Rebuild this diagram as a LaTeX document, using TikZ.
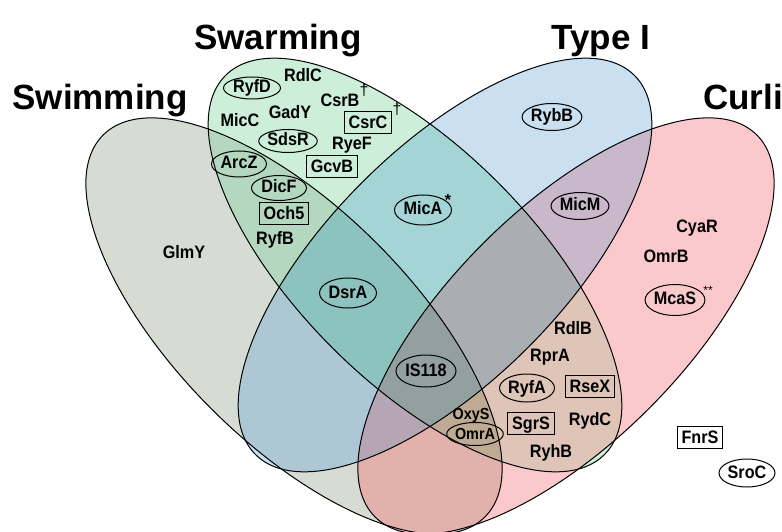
\documentclass[tikz,border=0pt]{standalone}
\usepackage{fontspec}
\setmainfont{Liberation Sans}
\newfontfamily\lblfont[FakeStretch=0.9]{Liberation Sans}
\usetikzlibrary{shapes.geometric}
\definecolor{cA}{HTML}{D6DCD4}
\definecolor{cB}{HTML}{CDEFD9}
\definecolor{cC}{HTML}{CADFF0}
\definecolor{cD}{HTML}{FBC9CB}
\definecolor{cAB}{HTML}{B3D8BF}
\definecolor{cAC}{HTML}{ADC8D4}
\definecolor{cAD}{HTML}{E2B1AC}
\definecolor{cBC}{HTML}{A4D5D6}
\definecolor{cBD}{HTML}{DEC5B8}
\definecolor{cCD}{HTML}{C9B7CA}
\definecolor{cABC}{HTML}{8CC3BE}
\definecolor{cABD}{HTML}{BFAA94}
\definecolor{cACD}{HTML}{B5A6B6}
\definecolor{cBCD}{HTML}{AAAEB3}
\definecolor{cABCD}{HTML}{92A19F}
\newcommand\EA{(294,205) ellipse (270 and 117)}
\newcommand\EB{(415,266) ellipse (268 and 117)}
\newcommand\EC{(445,266) ellipse (268 and 117)}
\newcommand\ED{(566,205) ellipse (270 and 117)}
\tikzset{
  rA/.style={rotate around={-45:(294,205)}},
  rB/.style={rotate around={-45:(415,266)}},
  rC/.style={rotate around={45:(445,266)}},
  rD/.style={rotate around={45:(566,205)}},
}
\begin{document}
\begin{tikzpicture}[x=1pt,y=1pt,
  lbl/.style={font=\lblfont\bfseries\fontsize{18}{18}\selectfont, inner sep=1pt},
  sml/.style={font=\lblfont\bfseries\fontsize{16}{16}\selectfont},
  oval/.style={lbl, draw, line width=1pt, ellipse, inner sep=0pt, text height=11pt, text depth=1pt, minimum width=57pt, minimum height=27pt},
  boxed/.style={lbl, draw, line width=1pt, rectangle, inner xsep=4.5pt, inner ysep=4pt, text height=13pt, text depth=1pt},
  ttl/.style={font=\bfseries\fontsize{35}{35}\selectfont, inner sep=0pt, anchor=base},
  supm/.style={font=\fontsize{16}{16}\selectfont, inner sep=0pt},
  setline/.style={draw=black, line width=1pt}
]
\useasboundingbox (0,0) rectangle (782,531);
\fill[white] (0,0) rectangle (782,531);
% single sets
\fill[cA, rA] \EA;
\fill[cB, rB] \EB;
\fill[cC, rC] \EC;
\fill[cD, rD] \ED;
% pairs
\begin{scope}\clip[rA] \EA; \fill[cAB, rB] \EB; \end{scope}
\begin{scope}\clip[rA] \EA; \fill[cAC, rC] \EC; \end{scope}
\begin{scope}\clip[rA] \EA; \fill[cAD, rD] \ED; \end{scope}
\begin{scope}\clip[rB] \EB; \fill[cBC, rC] \EC; \end{scope}
\begin{scope}\clip[rB] \EB; \fill[cBD, rD] \ED; \end{scope}
\begin{scope}\clip[rC] \EC; \fill[cCD, rD] \ED; \end{scope}
% triples
\begin{scope}\clip[rA] \EA; \clip[rB] \EB; \fill[cABC, rC] \EC; \end{scope}
\begin{scope}\clip[rA] \EA; \clip[rB] \EB; \fill[cABD, rD] \ED; \end{scope}
\begin{scope}\clip[rA] \EA; \clip[rC] \EC; \fill[cACD, rD] \ED; \end{scope}
\begin{scope}\clip[rB] \EB; \clip[rC] \EC; \fill[cBCD, rD] \ED; \end{scope}
% all four
\begin{scope}\clip[rA] \EA; \clip[rB] \EB; \clip[rC] \EC; \fill[cABCD, rD] \ED; \end{scope}
% outlines
\draw[setline, rA] \EA;
\draw[setline, rB] \EB;
\draw[setline, rC] \EC;
\draw[setline, rD] \ED;
% titles
\node[ttl] (tSwim) at (100,421) {Swimming};
\node[ttl] (tSwarm) at (278,481) {Swarming};
\node[ttl] (tType) at (601,481) {Type I};
\node[ttl] (tCurli) at (743,421) {Curli};
% labels
\node[oval, minimum height=22pt] (RyfD) at (252,443) {RyfD};
\node[lbl] (RdlC) at (303,456) {RdlC};
\node[lbl] (CsrB) at (340,431) {CsrB};
\node[supm] (CsrBd) at (364,441) {†};
\node[lbl] (MicC) at (240,411) {MicC};
\node[lbl] (GadY) at (290,419) {GadY};
\node[boxed] (CsrC) at (368,408) {CsrC};
\node[supm] (CsrCd) at (397,422) {†};
\node[oval, minimum height=23pt] (SdsR) at (288,390) {SdsR};
\node[lbl] (RyeF) at (352,386) {RyeF};
\node[oval, minimum height=26pt, minimum width=55pt] (ArcZ) at (239,367) {ArcZ};
\node[boxed] (GcvB) at (332,364) {GcvB};
\node[oval, minimum height=25pt, minimum width=55pt] (DicF) at (279,343) {DicF};
\node[boxed] (Och5) at (284,317) {Och5};
\node[lbl] (RyfB) at (275,291) {RyfB};
\node[lbl] (GlmY) at (184,279) {GlmY};
\node[oval, minimum height=30pt] (DsrA) at (348,238) {DsrA};
\node[oval, minimum height=30pt] (MicA) at (423,321) {MicA};
\node[supm, font=\bfseries\fontsize{16}{16}\selectfont] (MicAs) at (448,331) {*};
\node[oval, minimum width=58pt] (RybB) at (552,414) {RybB};
\node[oval, minimum width=58pt] (MicM) at (580,325) {MicM};
\node[lbl] (CyaR) at (697,303) {CyaR};
\node[lbl] (OmrB) at (666,275) {OmrB};
\node[oval, minimum height=31pt] (McaS) at (675,231) {McaS};
\node[supm, font=\fontsize{12}{12}\selectfont] (McaSs) at (708,241) {**};
\node[lbl] (RdlB) at (573,203) {RdlB};
\node[lbl] (RprA) at (550,174) {RprA};
\node[oval, minimum height=32pt, minimum width=60pt] (IS118) at (426,160) {IS118};
\node[oval, minimum height=28pt, minimum width=55pt] (RyfA) at (527,143) {RyfA};
\node[boxed] (RseX) at (590,145) {RseX};
\node[lbl, sml] (OxyS) at (471,115) {OxyS};
\node[oval, sml, minimum height=23pt, minimum width=50pt] (OmrA) at (475,97) {OmrA};
\node[boxed] (SgrS) at (531,108) {SgrS};
\node[lbl] (RydC) at (590,110) {RydC};
\node[lbl] (RyhB) at (551,78) {RyhB};
\node[boxed] (FnrS) at (700,94) {FnrS};
\node[oval, minimum height=28pt, minimum width=56pt] (SroC) at (747,58) {SroC};
\end{tikzpicture}
\end{document}
